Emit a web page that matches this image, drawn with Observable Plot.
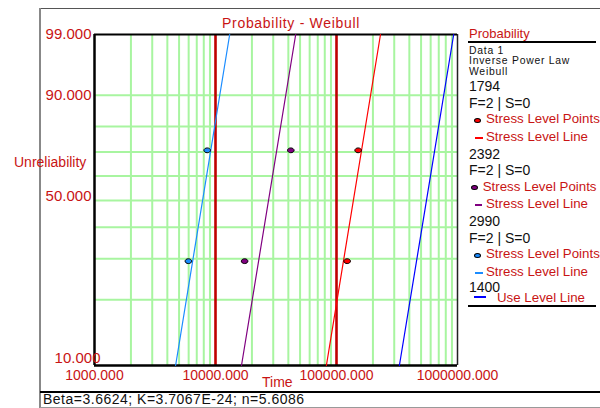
<!DOCTYPE html>
<html>
<head>
<meta charset="utf-8">
<script src="https://cdn.jsdelivr.net/npm/d3@7"></script>
<script src="https://cdn.jsdelivr.net/npm/@observablehq/plot@0.6"></script>
<style>
  html, body { margin: 0; padding: 0; background: #fff; }
  #wrap { position: relative; width: 600px; height: 408px; overflow: hidden; font-family: "Liberation Sans", Arial, sans-serif; }
  #wrap svg { position: absolute; left: 0; top: 0; }
  .t { position: absolute; white-space: nowrap; line-height: 1; }
  .red { color: #c81414; }
  .blk { color: #111; }
  .hl { position: absolute; }
</style>
</head>
<body>
<div id="wrap"></div>
<script>
// ---------------- data ----------------
const xTicks = [1000, 10000, 100000, 1000000];
const xGrid = [2000, 3000, 4000, 5000, 6000, 7000, 8000, 9000,
               20000, 30000, 40000, 50000, 60000, 70000, 80000, 90000,
               200000, 300000, 400000, 500000, 600000, 700000, 800000, 900000];
const xDecades = [10000, 100000];
const yTicks = [99, 90];
const yTickMid = [50];
const yTickLow = [10];
const yGrid = [20, 30, 40, 50, 60, 70, 80, 90];

const stressLevels = ["1794", "2392", "2990"];
const useLevel = "1400";
const pointUnrel = [29.29, 70.71];
const points1794 = [122500, 151000];
const points2392 = [17400, 41900];
const points2990 = [5970, 8540];
const lineUnrel = [10, 99];
const line1794 = [82500, 231000];
const line2392 = [16400, 46000];
const line2990 = [4680, 13100];
const line1400 = [331000, 930000];
const colors = {"1794": "#ff0000", "2392": "#800080", "2990": "#1a8cff", "1400": "#0000ff"};
const statusText = "Beta=3.6624;  K=3.7067E-24;  n=5.6086";
const modelLines = ["Data 1", "Inverse Power Law", "Weibull"];

// ---------------- build tables ----------------
const wb = F => Math.log(-Math.log(1 - F / 100));
const unwb = v => 100 * (1 - Math.exp(-Math.exp(v)));
const pts = [];
[[ "1794", points1794 ], [ "2392", points2392 ], [ "2990", points2990 ]].forEach(([s, arr]) =>
  arr.forEach((t, i) => pts.push({series: s, t, F: pointUnrel[i]})));
const lines = [];
[[ "1794", line1794 ], [ "2392", line2392 ], [ "2990", line2990 ], [ "1400", line1400 ]].forEach(([s, arr]) =>
  arr.forEach((t, i) => lines.push({series: s, t, F: lineUnrel[i]})));

const ellipse = {
  draw(ctx) {
    const rx = 3.3, ry = 2.4, k = 0.5523;
    ctx.moveTo(rx, 0);
    ctx.bezierCurveTo(rx, ry * k, rx * k, ry, 0, ry);
    ctx.bezierCurveTo(-rx * k, ry, -rx, ry * k, -rx, 0);
    ctx.bezierCurveTo(-rx, -ry * k, -rx * k, -ry, 0, -ry);
    ctx.bezierCurveTo(rx * k, -ry, rx, -ry * k, rx, 0);
    ctx.closePath();
  }
};

const RED = "#c81414";
const GREEN = "#a8f5a0";
const yAxisOpts = {tickSize: 0, tickPadding: 3, tickFormat: v => unwb(v).toFixed(3), fill: RED, fontSize: 15, label: null};

const chart = Plot.plot({
  width: 600,
  height: 408,
  marginLeft: 94,
  marginRight: 143,
  marginTop: 34,
  marginBottom: 43,
  style: {background: "transparent", fontFamily: "Liberation Sans, Arial, sans-serif"},
  x: {type: "log", domain: [1000, 1000000], label: null},
  y: {type: "linear", domain: [wb(10), wb(99)], label: null},
  marks: [
    Plot.axisY(yTickMid.map(wb), {...yAxisOpts, dy: -4}),
    Plot.ruleX(xGrid, {x: d => d, y1: wb(10), y2: wb(99), stroke: GREEN, strokeWidth: 2}),
    Plot.ruleY(yGrid, {y: d => wb(d), x1: 1000, x2: 1000000, stroke: GREEN, strokeWidth: 2}),
    Plot.ruleX(xDecades, {x: d => d, y1: wb(10), y2: wb(99), stroke: "#c00000", strokeWidth: 2.6}),
    Plot.ruleX([1000000], {x: d => d, y1: wb(10), y2: wb(99), stroke: "#222", strokeWidth: 1.5}),
    Plot.ruleY([99], {y: d => wb(d), x1: 1000, x2: 1000000, stroke: "#000", strokeWidth: 2}),
    Plot.ruleY([10], {y: d => wb(d), x1: 1000, x2: 1000000, stroke: "#000", strokeWidth: 2.5}),
    Plot.ruleX([1000], {x: d => d, y1: wb(10), y2: wb(99), stroke: "#000", strokeWidth: 2.5}),
    Plot.line(lines, {x: "t", y: d => wb(d.F), z: "series", stroke: d => colors[d.series], strokeWidth: 1.2}),
    Plot.dot(pts, {x: "t", y: d => wb(d.F), symbol: ellipse, fill: d => colors[d.series], stroke: "#000", strokeWidth: 1}),
    Plot.axisX(xTicks, {tickSize: 0, tickPadding: 5, tickFormat: d => d.toFixed(3), fill: RED, fontSize: 14, label: null}),
    Plot.axisY(yTicks.map(wb), yAxisOpts),
    Plot.axisY(yTickLow.map(wb), {...yAxisOpts, dx: 9, dy: -7})
  ]
});
const wrap = document.getElementById("wrap");
wrap.appendChild(chart);

// ---------------- overlay text / legend ----------------
function txt(s, x, yc, size, cls, extra) {
  const d = document.createElement("div");
  d.className = "t " + cls;
  d.textContent = s;
  d.style.left = x + "px";
  d.style.top = (yc - size * 0.55) + "px";
  d.style.fontSize = size + "px";
  if (extra) Object.assign(d.style, extra);
  wrap.appendChild(d);
  return d;
}
function hline(x, y, w, h, color) {
  const d = document.createElement("div");
  d.className = "hl";
  Object.assign(d.style, {left: x + "px", top: y + "px", width: w + "px", height: h + "px", background: color});
  wrap.appendChild(d);
}
function dotSwatch(x, y, color) {
  const d = document.createElement("div");
  d.className = "hl";
  Object.assign(d.style, {left: (x - 3) + "px", top: (y - 2) + "px", width: "5px", height: "3px",
    background: color, border: "1px solid #000", borderRadius: "50%"});
  wrap.appendChild(d);
}

// frame
hline(40, 8, 560, 1, "#555");
hline(39, 8, 1.5, 400, "#888");
hline(40, 390.5, 560, 2, "#000");
hline(40, 406.5, 560, 1.5, "#999");

// title & axis labels
txt("Probability - Weibull", 222, 24, 14, "red", {letterSpacing: "0.7px"});
txt("Unreliability", 14, 163, 14, "red");
txt("Time", 262, 383, 14, "red");
txt(statusText, 43, 400, 14, "blk", {letterSpacing: "0.5px"});

// legend
txt("Probability", 469, 34, 13, "red");
hline(468, 41, 128, 2, "#000");
modelLines.forEach((s, i) => txt(s, 469, 51.5 + i * 10.5, 10.4, "blk", {letterSpacing: "0.75px"}));
const blockTop = [86.7, 154.3, 221.7];
stressLevels.forEach((s, i) => {
  const y0 = blockTop[i];
  txt(s, 469, y0, 14, "blk");
  txt("F=2 | S=0", 469, y0 + 16.5, 14, "blk");
  const purple = s === "2392";
  dotSwatch(purple ? 474 : 477, y0 + 33, colors[s]);
  txt("Stress Level Points", purple ? 482.7 : 486, y0 + 33, 13.3, "red");
  hline(475, y0 + 50, purple ? 6.5 : 8, 2, colors[s]);
  txt("Stress Level Line", 486, y0 + 50.5, 13.3, "red");
});
txt(useLevel, 469, 288, 14, "blk");
hline(474, 296, 12, 2, colors["1400"]);
txt("Use Level Line", 497, 298, 13.3, "red");
hline(468, 304.5, 128, 2, "#000");
</script>
</body>
</html>
